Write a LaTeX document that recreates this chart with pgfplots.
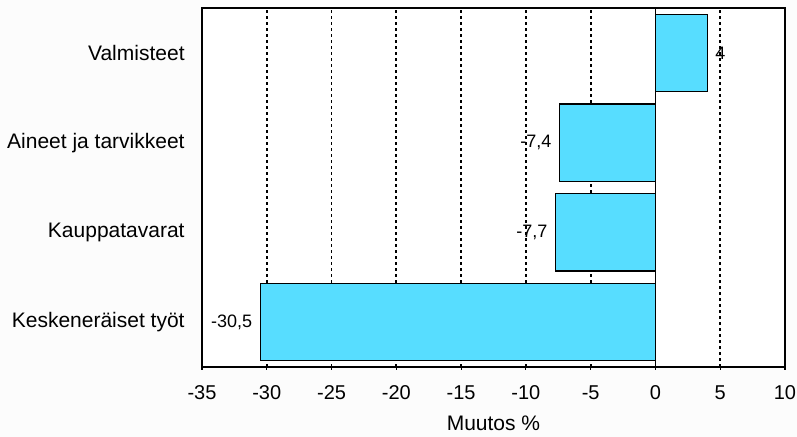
\documentclass[border=0pt]{standalone}
\usepackage{pgfplots}
\pgfplotsset{compat=1.18}
\usepackage{fontspec}
\setmainfont{Liberation Sans}

\definecolor{BarFill}{HTML}{57DDFF}
\definecolor{PageBg}{HTML}{FCFCFC}

\begin{document}
\begin{tikzpicture}
  % page background, 1px = 0.5pt
  \fill[PageBg] (-101pt,-35pt) rectangle ++(398.5pt,218.5pt);
  \begin{axis}[
    xbar,
    scale only axis,
    width=291.5pt, height=179.5pt,
    axis background/.style={fill=white},
    axis line style={black, line width=0.6pt},
    xmin=-35, xmax=10,
    ymin=-0.5, ymax=3.5,
    xtick={-35,-30,...,10},
    extra x ticks={0},
    extra x tick labels={},
    extra x tick style={grid style={solid, black, line width=0.6pt}},
    xtick pos=bottom,
    tick align=center,
    major tick length=3pt,
    xtick style={black, line width=0.6pt},
    xmajorgrids,
    grid style={black, line width=0.85pt, dash pattern=on 1.6pt off 1.4pt},
    ytick={0,1,2,3},
    yticklabels={Keskeneräiset työt, Kauppatavarat, Aineet ja tarvikkeet, Valmisteet},
    ytick style={draw=none},
    yticklabel style={font=\fontsize{10.5}{12}\selectfont, anchor=east, inner sep=0pt, xshift=-7pt},
    xticklabel style={font=\fontsize{10}{12}\selectfont, anchor=center, inner sep=0pt, yshift=-11.5pt},
    /pgf/number format/assume math mode=true,
    /pgf/number format/use comma,
    xlabel={Muutos \%},
    xlabel style={font=\fontsize{10.5}{12}\selectfont, at={(axis description cs:0.5,0)}, anchor=center, yshift=-28pt},
    bar width=0.86,
    nodes near coords,
    nodes near coords align={horizontal},
    point meta=x,
    every node near coord/.append style={font=\fontsize{9}{11}\selectfont, inner sep=3.8pt},
  ]
    \addplot[draw=black, line width=0.6pt, fill=BarFill] coordinates {
      (-30.5,0)
      (-7.7,1)
      (-7.4,2)
      (4,3)
    };
  \end{axis}
  \pgfresetboundingbox
  \path (-101pt,-35pt) rectangle ++(398.5pt,218.5pt);
\end{tikzpicture}
\end{document}
